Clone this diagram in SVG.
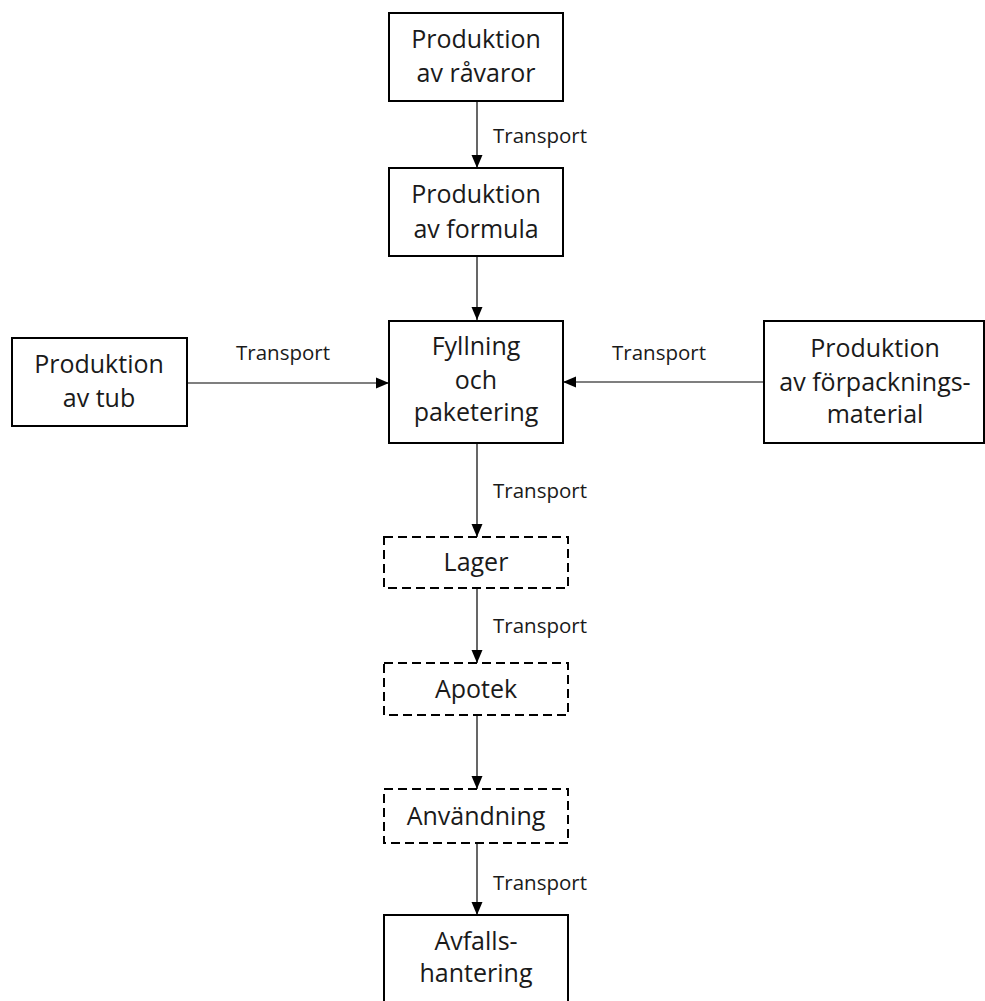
<svg xmlns="http://www.w3.org/2000/svg" width="985" height="1001" viewBox="0 0 985 1001">
<style>
.box{fill:#fff;stroke:#000;stroke-width:2}
.dash{fill:#fff;stroke:#000;stroke-width:2;stroke-dasharray:9,5}
.t{font-family:"Open Sans","Noto Sans",sans-serif;font-size:25px;fill:#1a1a1a;text-anchor:middle}
.lbl{font-family:"Open Sans","Noto Sans",sans-serif;font-size:20.5px;fill:#1a1a1a}
.c{stroke:#000;stroke-width:1.2;fill:none;marker-end:url(#ah)}
</style>
<defs>
<marker id="ah" markerUnits="userSpaceOnUse" markerWidth="14" markerHeight="14" viewBox="0 0 14 14" refX="13" refY="7" orient="auto">
<path d="M0,1.5 L13,7 L0,12.5 Z" fill="#000"/>
</marker>
</defs>
<rect width="985" height="1001" fill="#fff"/>
<g id="connectors">
<line class="c" x1="477" y1="101" x2="477" y2="168"/>
<line class="c" x1="477" y1="256" x2="477" y2="320"/>
<line class="c" x1="187" y1="383" x2="389" y2="383"/>
<line class="c" x1="764" y1="382" x2="563" y2="382"/>
<line class="c" x1="477" y1="443" x2="477" y2="537"/>
<line class="c" x1="477" y1="588" x2="477" y2="663"/>
<line class="c" x1="477" y1="715" x2="477" y2="789"/>
<line class="c" x1="477" y1="843" x2="477" y2="915"/>
<text class="lbl" x="493" y="143">Transport</text>
<text class="lbl" x="236" y="360">Transport</text>
<text class="lbl" x="612" y="360">Transport</text>
<text class="lbl" x="493" y="498">Transport</text>
<text class="lbl" x="493" y="633">Transport</text>
<text class="lbl" x="493" y="890">Transport</text>
</g>
<g id="n1">
<rect class="box" x="389" y="13" width="174" height="88"/>
<text class="t" x="476" y="48">Produktion</text>
<text class="t" x="476" y="82">av råvaror</text>
</g>
<g id="n2">
<rect class="box" x="389" y="168" width="174" height="88"/>
<text class="t" x="476" y="203">Produktion</text>
<text class="t" x="476" y="238">av formula</text>
</g>
<g id="n3">
<rect class="box" x="389" y="321" width="174" height="122"/>
<text class="t" x="476" y="355">Fyllning</text>
<text class="t" x="476" y="389">och</text>
<text class="t" x="476" y="421">paketering</text>
</g>
<g id="n4">
<rect class="box" x="12" y="338" width="175" height="88"/>
<text class="t" x="99" y="373">Produktion</text>
<text class="t" x="99" y="407">av tub</text>
</g>
<g id="n5">
<rect class="box" x="764" y="321" width="220" height="122"/>
<text class="t" x="875" y="357">Produktion</text>
<text class="t" x="875" y="391">av förpacknings-</text>
<text class="t" x="875" y="423">material</text>
</g>
<g id="n6">
<rect class="dash" x="384" y="537" width="184" height="51"/>
<text class="t" x="476" y="571">Lager</text>
</g>
<g id="n7">
<rect class="dash" x="384" y="663" width="184" height="52"/>
<text class="t" x="476" y="698">Apotek</text>
</g>
<g id="n8">
<rect class="dash" x="384" y="789" width="184" height="54"/>
<text class="t" x="476" y="825">Användning</text>
</g>
<g id="n9">
<rect class="box" x="384" y="915" width="184" height="100"/>
<text class="t" x="476" y="950">Avfalls-</text>
<text class="t" x="476" y="982">hantering</text>
</g>
</svg>
